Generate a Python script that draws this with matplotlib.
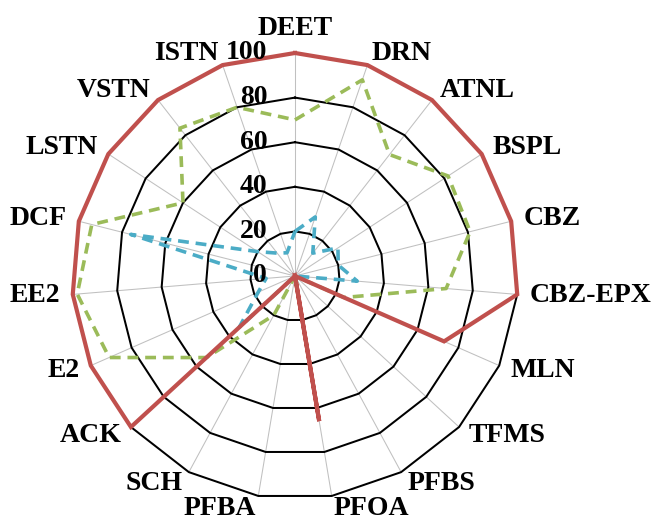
import numpy as np
import matplotlib
matplotlib.use("Agg")
import matplotlib.pyplot as plt

categories = ['DEET', 'DRN', 'ATNL', 'BSPL', 'CBZ', 'CBZ-EPX', 'MLN', 'TFMS',
              'PFBS', 'PFOA', 'PFBA', 'SCH', 'ACK', 'E2', 'EE2', 'DCF',
              'LSTN', 'VSTN', 'ISTN']
red_vals = [100, 100, 100, 100, 100, 100, 73, 0, 0, 66, 0, 0, 100, 100, 100, 100, 100, 100, 100]
green_vals = [70, 93, 69, 82, 81, 68, 24, 0, 0, 0, 0, 20, 54, 91, 98, 94, 60, 84, 80]
blue_vals = [20, 28, 13, 23, 20, 28, 0, 0, 0, 0, 0, 0, 34, 18, 13, 76, 20, 13, 11]
r_ticks = [0, 20, 40, 60, 80, 100]

FONT = ['Liberation Serif', 'DejaVu Serif']
FS = 20

n = len(categories)
theta = np.linspace(0, 2 * np.pi, n, endpoint=False)
theta_c = np.append(theta, theta[0])

W, H = 652, 519
fig = plt.figure(figsize=(W / 100, H / 100), dpi=100)
cx, cy, R = 295, 276, 223
ax = fig.add_axes([(cx - R) / W, (H - cy - R) / H, 2 * R / W, 2 * R / H], projection='polar')
ax.set_theta_zero_location('N')
ax.set_theta_direction(-1)
ax.set_ylim(0, 100)
ax.grid(False)
ax.spines['polar'].set_visible(False)
ax.set_xticks([])
ax.set_yticks([])
ax.patch.set_alpha(0)

# spokes
for t in theta:
    ax.plot([t, t], [0, 100], color='#c0c0c0', lw=0.75, zorder=1, clip_on=False)
# polygon grid
for r in r_ticks[1:]:
    ax.plot(theta_c, [r] * (n + 1), color='black', lw=1.45, zorder=2, clip_on=False)

def closed(v):
    return list(v) + [v[0]]

ax.plot(theta_c, closed(green_vals), color='#9BBB59', lw=2.6,
        linestyle=(0, (3.0, 1.9)), zorder=3, clip_on=False)
ax.plot(theta_c, closed(blue_vals), color='#4BACC6', lw=2.6,
        linestyle=(0, (3.0, 1.9)), zorder=4, clip_on=False)
ax.plot(theta_c, closed(red_vals), color='#C0504D', lw=3.0,
        zorder=5, clip_on=False, solid_joinstyle='miter')

# radial labels
for r in r_ticks:
    ax.annotate(str(r), xy=(0, r), xytext=(-20, 0), textcoords='offset points',
                ha='right', va='center', fontsize=FS, fontweight='bold',
                family=FONT, zorder=6, annotation_clip=False)

# category labels
for t, lab in zip(theta, categories):
    s = np.sin(t)
    if s > 0.01:
        ha = 'left'
    elif s < -0.01:
        ha = 'right'
    else:
        ha = 'center'
    va = 'bottom' if abs(s) < 0.01 else 'center'
    ax.text(t, 105.6, lab, ha=ha, va=va, fontsize=FS, fontweight='bold',
            family=FONT, clip_on=False)

fig.savefig('out.png', dpi=100)
